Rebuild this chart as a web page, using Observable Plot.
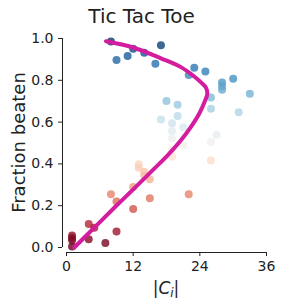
<!DOCTYPE html>
<html><head><meta charset="utf-8">
<script src="https://cdn.jsdelivr.net/npm/d3@7"></script>
<script src="https://cdn.jsdelivr.net/npm/@observablehq/plot@0.6"></script>
<style>
body{margin:0;background:#fff}
svg{font-family:"DejaVu Sans",sans-serif}
</style>
</head><body><div id="chart"></div>
<script>
const title = "Tic Tac Toe";
const yLabel = "Fraction beaten";
const xTicks = [0, 12, 24, 36];
const yTicks = [0, 0.2, 0.4, 0.6, 0.8, 1.0];

// scatter: |C_i| and fraction beaten
const setSize = [8, 9, 11, 12, 14, 17, 16, 22, 23, 25, 28, 28, 28, 30, 33, 26, 26, 31,
  18, 20, 20, 17, 19, 21, 19, 19, 27, 26, 21, 19, 19, 26,
  13, 13, 14, 14, 15, 12, 8, 22, 9, 15, 12, 4, 5, 9, 4, 7, 1, 1, 1, 1];
const fracBeaten = [0.986, 0.897, 0.916, 0.951, 0.932, 0.968, 0.879, 0.825, 0.860, 0.842, 0.790, 0.772, 0.755, 0.807, 0.736, 0.718, 0.664, 0.647,
  0.701, 0.683, 0.629, 0.612, 0.594, 0.575, 0.558, 0.523, 0.540, 0.505, 0.488, 0.469, 0.434, 0.416,
  0.398, 0.381, 0.362, 0.344, 0.326, 0.290, 0.255, 0.255, 0.220, 0.236, 0.184, 0.112, 0.094, 0.077, 0.040, 0.022, 0.058, 0.045, 0.035, 0.005];

// fitted curve, read along its path
const curveX = [1.4, 5.0, 8.6, 12.2, 15.2, 18.2, 20.6, 22.4, 23.9, 24.9, 25.35, 25.1, 24.2, 23.0, 20.6, 17.0, 12.0, 7.1];
const curveY = [0.0, 0.095, 0.19, 0.283, 0.362, 0.441, 0.513, 0.577, 0.641, 0.70, 0.735, 0.765, 0.790, 0.818, 0.863, 0.905, 0.957, 0.987];

const points = setSize.map((x, i) => ({x, y: fracBeaten[i]}));
const curve = curveX.map((x, i) => ({x, y: curveY[i]}));
const ink = "#222";

const plot = Plot.plot({
  width: 281, height: 307,
  marginLeft: 66, marginRight: 15, marginTop: 38, marginBottom: 60,
  style: {fontFamily: "DejaVu Sans", fontSize: "14px", color: ink, background: "#fff", overflow: "visible"},
  x: {domain: [0, 36]},
  y: {domain: [0, 1]},
  color: {type: "linear", scheme: "rdbu", domain: [0, 1]},
  marks: [
    Plot.ruleY([0], {x1: 0, x2: 36, dy: 5, stroke: ink, strokeWidth: 1}),
    Plot.ruleX([0], {y1: 0, y2: 1, dx: -4, stroke: ink, strokeWidth: 1}),
    Plot.axisX({ticks: xTicks, tickSize: 4, dy: 5, label: null, tickFormat: d => String(d), fontSize: 14, stroke: ink, fill: ink}),
    Plot.axisY({ticks: yTicks, tickSize: 4, dx: -4, label: null, tickFormat: d3.format(".1f"), fontSize: 14, stroke: ink, fill: ink}),
    Plot.dot(points, {x: "x", y: "y", r: 4, fill: "y", fillOpacity: 0.8, stroke: "none"}),
    Plot.line(curve, {x: "x", y: "y", curve: "catmull-rom", stroke: "#d41c9f", strokeWidth: 4})
  ]
});
document.getElementById("chart").appendChild(plot);

const svg = d3.select(plot);
const xs = plot.scale("x"), ys = plot.scale("y");
const xMid = (xs.range[0] + xs.range[1]) / 2;
const yMid = (ys.range[0] + ys.range[1]) / 2;

svg.append("text").attr("x", 141.5).attr("y", 23).attr("text-anchor", "middle")
  .attr("font-size", 20).attr("fill", ink).text(title);

svg.append("text").attr("transform", `translate(25,${yMid}) rotate(-90)`)
  .attr("text-anchor", "middle").attr("font-size", 18).attr("fill", ink).text(yLabel);

const xl = svg.append("text").attr("x", xMid).attr("y", 294).attr("text-anchor", "middle")
  .attr("font-size", 17).attr("fill", ink);
xl.append("tspan").text("|");
xl.append("tspan").attr("font-style", "italic").text("C");
xl.append("tspan").attr("font-style", "italic").attr("font-size", 12).attr("dy", 3).text("i");
xl.append("tspan").attr("dy", -3).text("|");
</script>
</body></html>
